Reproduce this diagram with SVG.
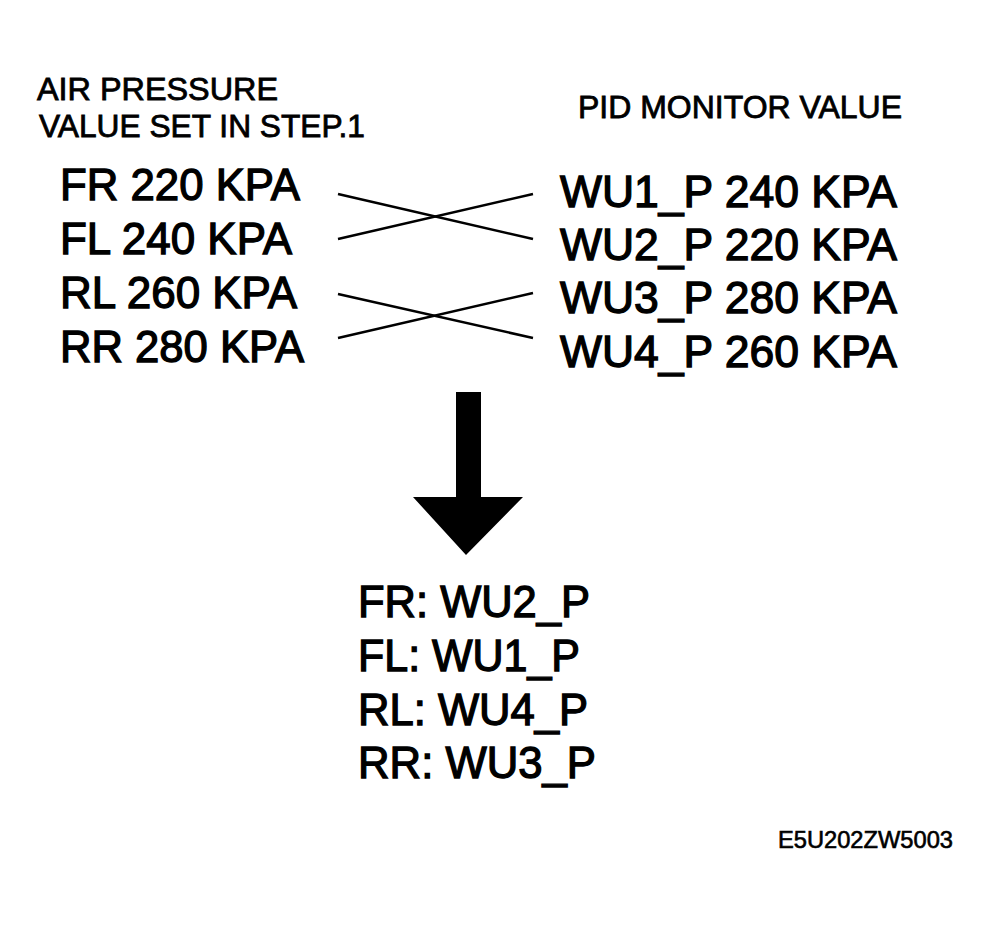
<svg xmlns="http://www.w3.org/2000/svg" width="994" height="925" viewBox="0 0 994 925">
<style>
text{font-family:"Liberation Sans",Arial,Helvetica,sans-serif;fill:#000;stroke:#000}
.h{font-size:31px;stroke-width:0.8}
.v{font-size:44px;stroke-width:1.3}
.c{font-size:23px;stroke-width:0.6}
.ln{stroke:#000;stroke-width:2.5;fill:none}
</style>
<rect width="994" height="925" fill="#fff"/>
<g id="header-left">
<text class="h" x="37" y="100" textLength="241" lengthAdjust="spacingAndGlyphs">AIR PRESSURE</text>
<text class="h" x="39" y="137" textLength="326" lengthAdjust="spacingAndGlyphs">VALUE SET IN STEP.1</text>
</g>
<g id="header-right">
<text class="h" x="578" y="118" textLength="324" lengthAdjust="spacingAndGlyphs">PID MONITOR VALUE</text>
</g>
<g id="left-values">
<text id="fr" class="v" x="60" y="200" textLength="240" lengthAdjust="spacingAndGlyphs">FR 220 KPA</text>
<text id="fl" class="v" x="60" y="254" textLength="232" lengthAdjust="spacingAndGlyphs">FL 240 KPA</text>
<text id="rl" class="v" x="60" y="308" textLength="237" lengthAdjust="spacingAndGlyphs">RL 260 KPA</text>
<text id="rr" class="v" x="60" y="362" textLength="244" lengthAdjust="spacingAndGlyphs">RR 280 KPA</text>
</g>
<g id="right-values">
<text id="wu1" class="v" x="560" y="207" textLength="337" lengthAdjust="spacingAndGlyphs">WU1_P 240 KPA</text>
<text id="wu2" class="v" x="560" y="260" textLength="337" lengthAdjust="spacingAndGlyphs">WU2_P 220 KPA</text>
<text id="wu3" class="v" x="560" y="313" textLength="337" lengthAdjust="spacingAndGlyphs">WU3_P 280 KPA</text>
<text id="wu4" class="v" x="560" y="367" textLength="337" lengthAdjust="spacingAndGlyphs">WU4_P 260 KPA</text>
</g>
<g id="connectors">
<line class="ln" x1="338" y1="194" x2="533" y2="239"/>
<line class="ln" x1="338" y1="239" x2="533" y2="194"/>
<line class="ln" x1="338" y1="294" x2="533" y2="338"/>
<line class="ln" x1="338" y1="338" x2="533" y2="293"/>
</g>
<g id="arrow">
<polygon points="456,392 481,392 481,497 523,497 466,555 413,497 456,497" fill="#000"/>
</g>
<g id="result">
<text class="v" x="358" y="617" textLength="232" lengthAdjust="spacingAndGlyphs">FR: WU2_P</text>
<text class="v" x="358" y="671" textLength="222" lengthAdjust="spacingAndGlyphs">FL: WU1_P</text>
<text class="v" x="358" y="725" textLength="230" lengthAdjust="spacingAndGlyphs">RL: WU4_P</text>
<text class="v" x="358" y="778" textLength="238" lengthAdjust="spacingAndGlyphs">RR: WU3_P</text>
</g>
<g id="code">
<text class="c" x="778" y="848" textLength="175" lengthAdjust="spacingAndGlyphs">E5U202ZW5003</text>
</g>
</svg>
